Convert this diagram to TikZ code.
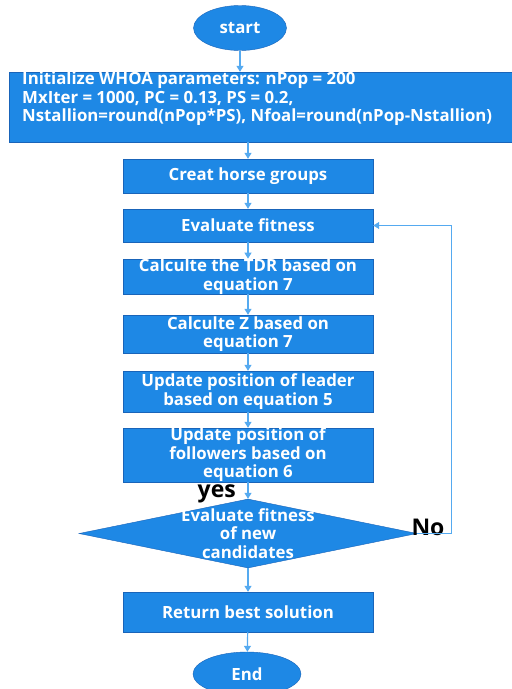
\documentclass[tikz,border=0pt]{standalone}
\usepackage{fontspec}
\setmainfont{Open Sans}
\usetikzlibrary{shapes.geometric,arrows.meta}
\definecolor{boxblue}{RGB}{30,136,229}
\definecolor{edgeblue}{RGB}{25,100,185}
\definecolor{linkblue}{RGB}{85,170,240}
\begin{document}
\begin{tikzpicture}[x=1pt, y=-1pt, >={Triangle[length=6pt,width=7pt]},
    font=\fontsize{16.8}{18.5}\selectfont\bfseries,
    block/.style={draw=edgeblue, fill=boxblue, text=white, minimum width=250pt,
        inner sep=0pt, align=center},
    terminal/.style={ellipse, draw=edgeblue, fill=boxblue, text=white, inner sep=0pt},
    decision/.style={diamond, draw=edgeblue, fill=boxblue, inner sep=0pt},
    link/.style={->, draw=linkblue, line width=1.2pt},
    tag/.style={font=\fontsize{23}{26}\selectfont\bfseries, text=black, inner sep=0pt}]
    \useasboundingbox (0,0) rectangle (512,689);
    \node[terminal, minimum width=93pt, minimum height=45pt] (start) at (240,28) {start};
    \node[block, minimum width=503pt, minimum height=70pt] (init) at (260.5,107) {};
    \node[anchor=north west, align=left, text=white, inner sep=0pt] (inittext) at (22,72)
        {Initialize WHOA parameters: nPop = 200\\
         MxIter = 1000, PC = 0.13, PS = 0.2,\\
         Nstallion=round(nPop*PS), Nfoal=round(nPop-Nstallion)};
    \node[block, minimum height=34pt] (groups) at (248,176) {Creat horse groups};
    \node[block, minimum height=33pt] (eval) at (248,225.5) {Evaluate fitness};
    \node[block, minimum height=35pt] (tdr) at (248,276.5) {Calculte the TDR based on\\equation 7};
    \node[block, minimum height=38pt] (zcalc) at (248,334) {Calculte Z based on\\equation 7};
    \node[block, minimum height=41pt] (leader) at (248,391.5) {Update position of leader\\based on equation 5};
    \node[block, minimum height=54pt] (followers) at (248,455) {Update position of\\followers based on\\equation 6};
    \node[decision, minimum width=338pt, minimum height=69pt] (check) at (248,533.5) {};
    \node[text=white, align=center, inner sep=0pt] (checktext) at (check.center)
        {Evaluate fitness\\of new\\candidates};
    \node[block, minimum height=40pt] (best) at (248,612) {Return best solution};
    \node[terminal, minimum width=108pt, minimum height=44pt] (end) at (247,674) {End};
    \coordinate (loop) at (451,533.5);
    \node[tag, anchor=base east] (yes) at (236,497) {yes};
    \node[tag] (no) at (428,527) {No};

    \draw[link] (start.south) -- (start.south |- init.north);
    \draw[link] (groups.north |- init.south) -- (groups.north);
    \draw[link] (groups) -- (eval);
    \draw[link] (eval) -- (tdr);
    \draw[link] (tdr) -- (zcalc);
    \draw[link] (zcalc) -- (leader);
    \draw[link] (leader) -- (followers);
    \draw[link] (followers) -- (check.north);
    \draw[link] (check) -- (best);
    \draw[link] (best) -- (end);
    \draw[link, line width=0.9pt] (check.east) -- (loop) |- (eval.east);
\end{tikzpicture}
\end{document}
